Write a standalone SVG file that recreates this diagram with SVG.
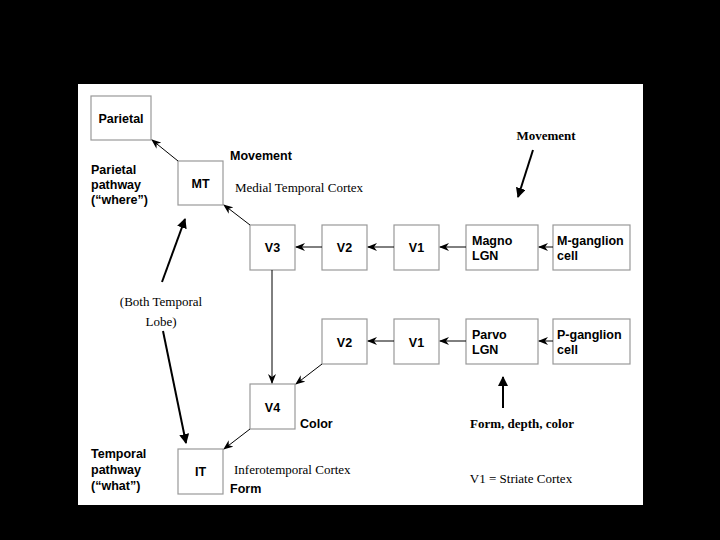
<svg xmlns="http://www.w3.org/2000/svg" width="720" height="540" viewBox="0 0 720 540">
<defs>
<style>
.b{fill:#fff;stroke:#999;stroke-width:1.2}
.t{font-family:"Liberation Sans",Arial,sans-serif;font-weight:bold;font-size:12.5px;fill:#000}
.s{font-family:"Liberation Serif","Times New Roman",serif;font-size:13px;fill:#000}
.c{stroke:#000;stroke-width:1;fill:none;marker-end:url(#a)}
.k{stroke:#000;stroke-width:2;fill:none;marker-end:url(#k)}
</style>
<marker id="a" markerWidth="10" markerHeight="8" refX="9" refY="4" orient="auto" markerUnits="userSpaceOnUse"><path d="M0,0 L10,4 L0,8 L3,4 Z" fill="#000"/></marker>
<marker id="k" markerWidth="10" markerHeight="10" refX="9" refY="5" orient="auto" markerUnits="userSpaceOnUse"><path d="M0,0 L10,5 L0,10 Z" fill="#000"/></marker>
</defs>
<rect width="720" height="540" fill="#000"/>
<rect x="78" y="84" width="565" height="421" fill="#fff"/>
<g id="parietal"><rect class="b" x="91" y="96" width="60" height="44"/><text class="t" x="121" y="123" text-anchor="middle">Parietal</text></g>
<g id="mt"><rect class="b" x="178" y="161" width="45" height="44"/><text class="t" x="200.5" y="188" text-anchor="middle">MT</text></g>
<g id="v3"><rect class="b" x="250" y="225" width="45" height="45"/><text class="t" x="272.5" y="252" text-anchor="middle">V3</text></g>
<g id="v2a"><rect class="b" x="322" y="225" width="45" height="45"/><text class="t" x="344.5" y="252" text-anchor="middle">V2</text></g>
<g id="v1a"><rect class="b" x="394" y="225" width="45" height="45"/><text class="t" x="416.5" y="252" text-anchor="middle">V1</text></g>
<g id="magno"><rect class="b" x="466" y="225" width="72" height="45"/><text class="t" x="472" y="245">Magno</text><text class="t" x="472" y="260">LGN</text></g>
<g id="mgang"><rect class="b" x="553" y="225" width="77" height="45"/><text class="t" x="557" y="245">M-ganglion</text><text class="t" x="557" y="260">cell</text></g>
<g id="v2b"><rect class="b" x="322" y="319" width="45" height="45"/><text class="t" x="344.5" y="347" text-anchor="middle">V2</text></g>
<g id="v1b"><rect class="b" x="394" y="319" width="45" height="45"/><text class="t" x="416.5" y="347" text-anchor="middle">V1</text></g>
<g id="parvo"><rect class="b" x="466" y="319" width="72" height="45"/><text class="t" x="472" y="339">Parvo</text><text class="t" x="472" y="354">LGN</text></g>
<g id="pgang"><rect class="b" x="553" y="319" width="77" height="45"/><text class="t" x="557" y="339">P-ganglion</text><text class="t" x="557" y="354">cell</text></g>
<g id="v4"><rect class="b" x="250" y="384" width="45" height="45"/><text class="t" x="272.5" y="412" text-anchor="middle">V4</text></g>
<g id="it"><rect class="b" x="178" y="449" width="45" height="45"/><text class="t" x="200.5" y="476" text-anchor="middle">IT</text></g>
<g id="labels">
<text class="t" x="230" y="160">Movement</text>
<text class="t" x="91" y="174">Parietal</text><text class="t" x="91" y="189">pathway</text><text class="t" x="91" y="204">(“where”)</text>
<text class="t" x="300" y="428">Color</text>
<text class="t" x="91" y="458">Temporal</text><text class="t" x="91" y="474">pathway</text><text class="t" x="91" y="490">(“what”)</text>
<text class="t" x="230" y="493">Form</text>
<text class="s" x="235" y="192">Medial Temporal Cortex</text>
<text class="s" x="234" y="474">Inferotemporal Cortex</text>
<text class="s" x="161" y="306" text-anchor="middle">(Both Temporal</text>
<text class="s" x="161" y="326" text-anchor="middle">Lobe)</text>
<text class="s" x="546" y="140" text-anchor="middle" font-weight="bold" font-size="14">Movement</text>
<text class="s" x="522" y="428" text-anchor="middle" font-weight="bold" font-size="14">Form, depth, color</text>
<text class="s" x="521" y="483" text-anchor="middle" font-size="21">V1 = Striate Cortex</text>
</g>
<g id="connectors">
<line class="c" x1="553" y1="247" x2="539" y2="247"/>
<line class="c" x1="466" y1="247" x2="440" y2="247"/>
<line class="c" x1="394" y1="247" x2="368" y2="247"/>
<line class="c" x1="322" y1="247" x2="296" y2="247"/>
<line class="c" x1="553" y1="341" x2="539" y2="341"/>
<line class="c" x1="466" y1="341" x2="440" y2="341"/>
<line class="c" x1="394" y1="341" x2="368" y2="341"/>
<line class="c" x1="250" y1="225" x2="224" y2="205"/>
<line class="c" x1="178" y1="161" x2="152" y2="140"/>
<line class="c" x1="272" y1="270" x2="272" y2="383"/>
<line class="c" x1="322" y1="364" x2="296" y2="384"/>
<line class="c" x1="250" y1="429" x2="224" y2="449"/>
<line class="k" x1="533" y1="150" x2="518" y2="197"/>
<line class="k" x1="503" y1="408" x2="503" y2="377"/>
<line class="k" x1="162" y1="282" x2="185" y2="219"/>
<line class="k" x1="163" y1="331" x2="186" y2="443"/>
</g>
</svg>
